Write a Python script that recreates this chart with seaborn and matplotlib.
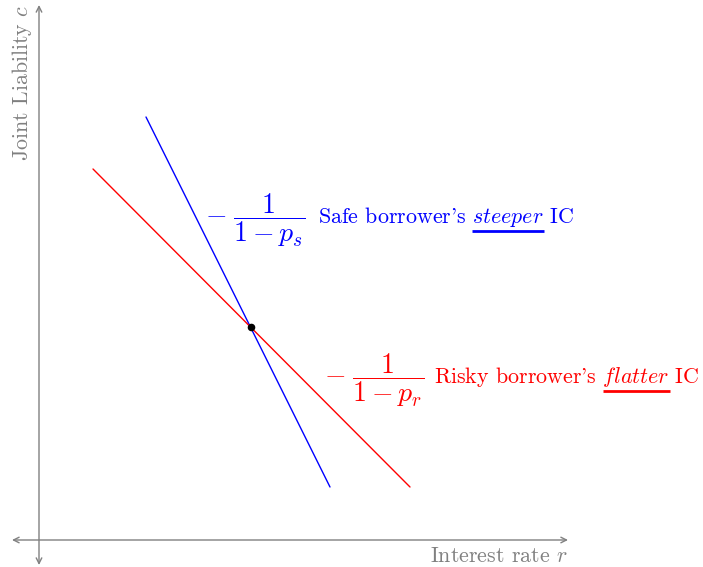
import matplotlib
matplotlib.use("Agg")
import matplotlib.pyplot as plt
import seaborn as sns
import pandas as pd

sns.set_style("white")
plt.rcParams["font.family"] = ["cmr10", "DejaVu Serif"]
plt.rcParams["mathtext.fontset"] = "cm"
plt.rcParams["axes.unicode_minus"] = False
plt.rcParams["axes.formatter.use_mathtext"] = True

# Data (interest rate r, joint liability c)
safe_r = [1.07, 2.91]
safe_c = [4.23, 0.53]
risky_r = [0.54, 3.71]
risky_c = [3.71, 0.53]
cross_r = [2.12]
cross_c = [2.13]

x_axis = [-0.27, 5.29]
y_axis = [-0.25, 5.35]

safe_frac = r"$-\;\dfrac{1}{1-p_s}$"
risky_frac = r"$-\;\dfrac{1}{1-p_r}$"
safe_label = ["Safe borrower's ", r"$\mathit{steeper}$", " IC"]
risky_label = ["Risky borrower's ", r"$\mathit{flatter}$", " IC"]
xlabel = r"Interest rate $r$"
ylabel = r"Joint Liability $c$"

BLUE = "#0000ff"
RED = "#ff0000"
GRAY = "#808080"
FS = 15.8

df = pd.DataFrame({
    "r": safe_r + risky_r,
    "c": safe_c + risky_c,
    "ic": ["safe"] * len(safe_r) + ["risky"] * len(risky_r),
})

fig = plt.figure(figsize=(7.03, 5.67), dpi=100)
ax = fig.add_axes([0, 0, 1, 1])
ax.set_xlim(-0.39, 6.64)
ax.set_ylim(-0.27, 5.40)
ax.axis("off")

# axes arrows
ax.annotate("", xy=(x_axis[1], 0), xytext=(x_axis[0], 0),
            arrowprops=dict(arrowstyle="<->", color=GRAY, lw=1.0,
                            shrinkA=0, shrinkB=0, mutation_scale=10))
ax.annotate("", xy=(0, y_axis[1]), xytext=(0, y_axis[0]),
            arrowprops=dict(arrowstyle="<->", color=GRAY, lw=1.0,
                            shrinkA=0, shrinkB=0, mutation_scale=10))
ax.text(x_axis[1], -0.16, xlabel, color=GRAY, fontsize=FS,
        ha="right", va="center")
ax.text(-0.17, y_axis[1], ylabel, color=GRAY, fontsize=FS,
        ha="center", va="top", rotation=90)

sns.lineplot(data=df, x="r", y="c", hue="ic", palette={"safe": BLUE, "risky": RED},
             ax=ax, legend=False, lw=1.0, sort=False, estimator=None)
sns.scatterplot(x=cross_r, y=cross_c, color="black", s=30, ax=ax, zorder=5,
                linewidth=0)

# fraction labels
ax.text(2.165, 3.20, safe_frac, color=BLUE, fontsize=20, ha="center", va="center")
ax.text(3.35, 1.60, risky_frac, color=RED, fontsize=20, ha="center", va="center")


def label(parts, x, y, color):
    ax.text(x, y, "".join(parts), color=color, fontsize=FS, ha="left", va="baseline")
    fig.canvas.draw()
    r = fig.canvas.get_renderer()
    t_pre = ax.text(x, y, parts[0] + parts[1], fontsize=FS, ha="left", va="baseline")
    t_w = ax.text(x, y, parts[1], fontsize=FS, ha="left", va="baseline")
    b_pre = t_pre.get_window_extent(r)
    b_w = t_w.get_window_extent(r)
    t_pre.remove()
    t_w.remove()
    inv = ax.transData.inverted()
    x1 = b_pre.x1
    x0 = x1 - b_w.width
    yy = b_w.y0 - 2.0
    (dx0, dy), (dx1, _) = inv.transform([(x0, yy), (x1, yy)])
    ax.plot([dx0, dx1], [dy, dy], color=color, lw=2.0, solid_capstyle="butt")


label(safe_label, 2.79, 3.17, BLUE)
label(risky_label, 3.955, 1.57, RED)

fig.savefig("out.png", dpi=100)
